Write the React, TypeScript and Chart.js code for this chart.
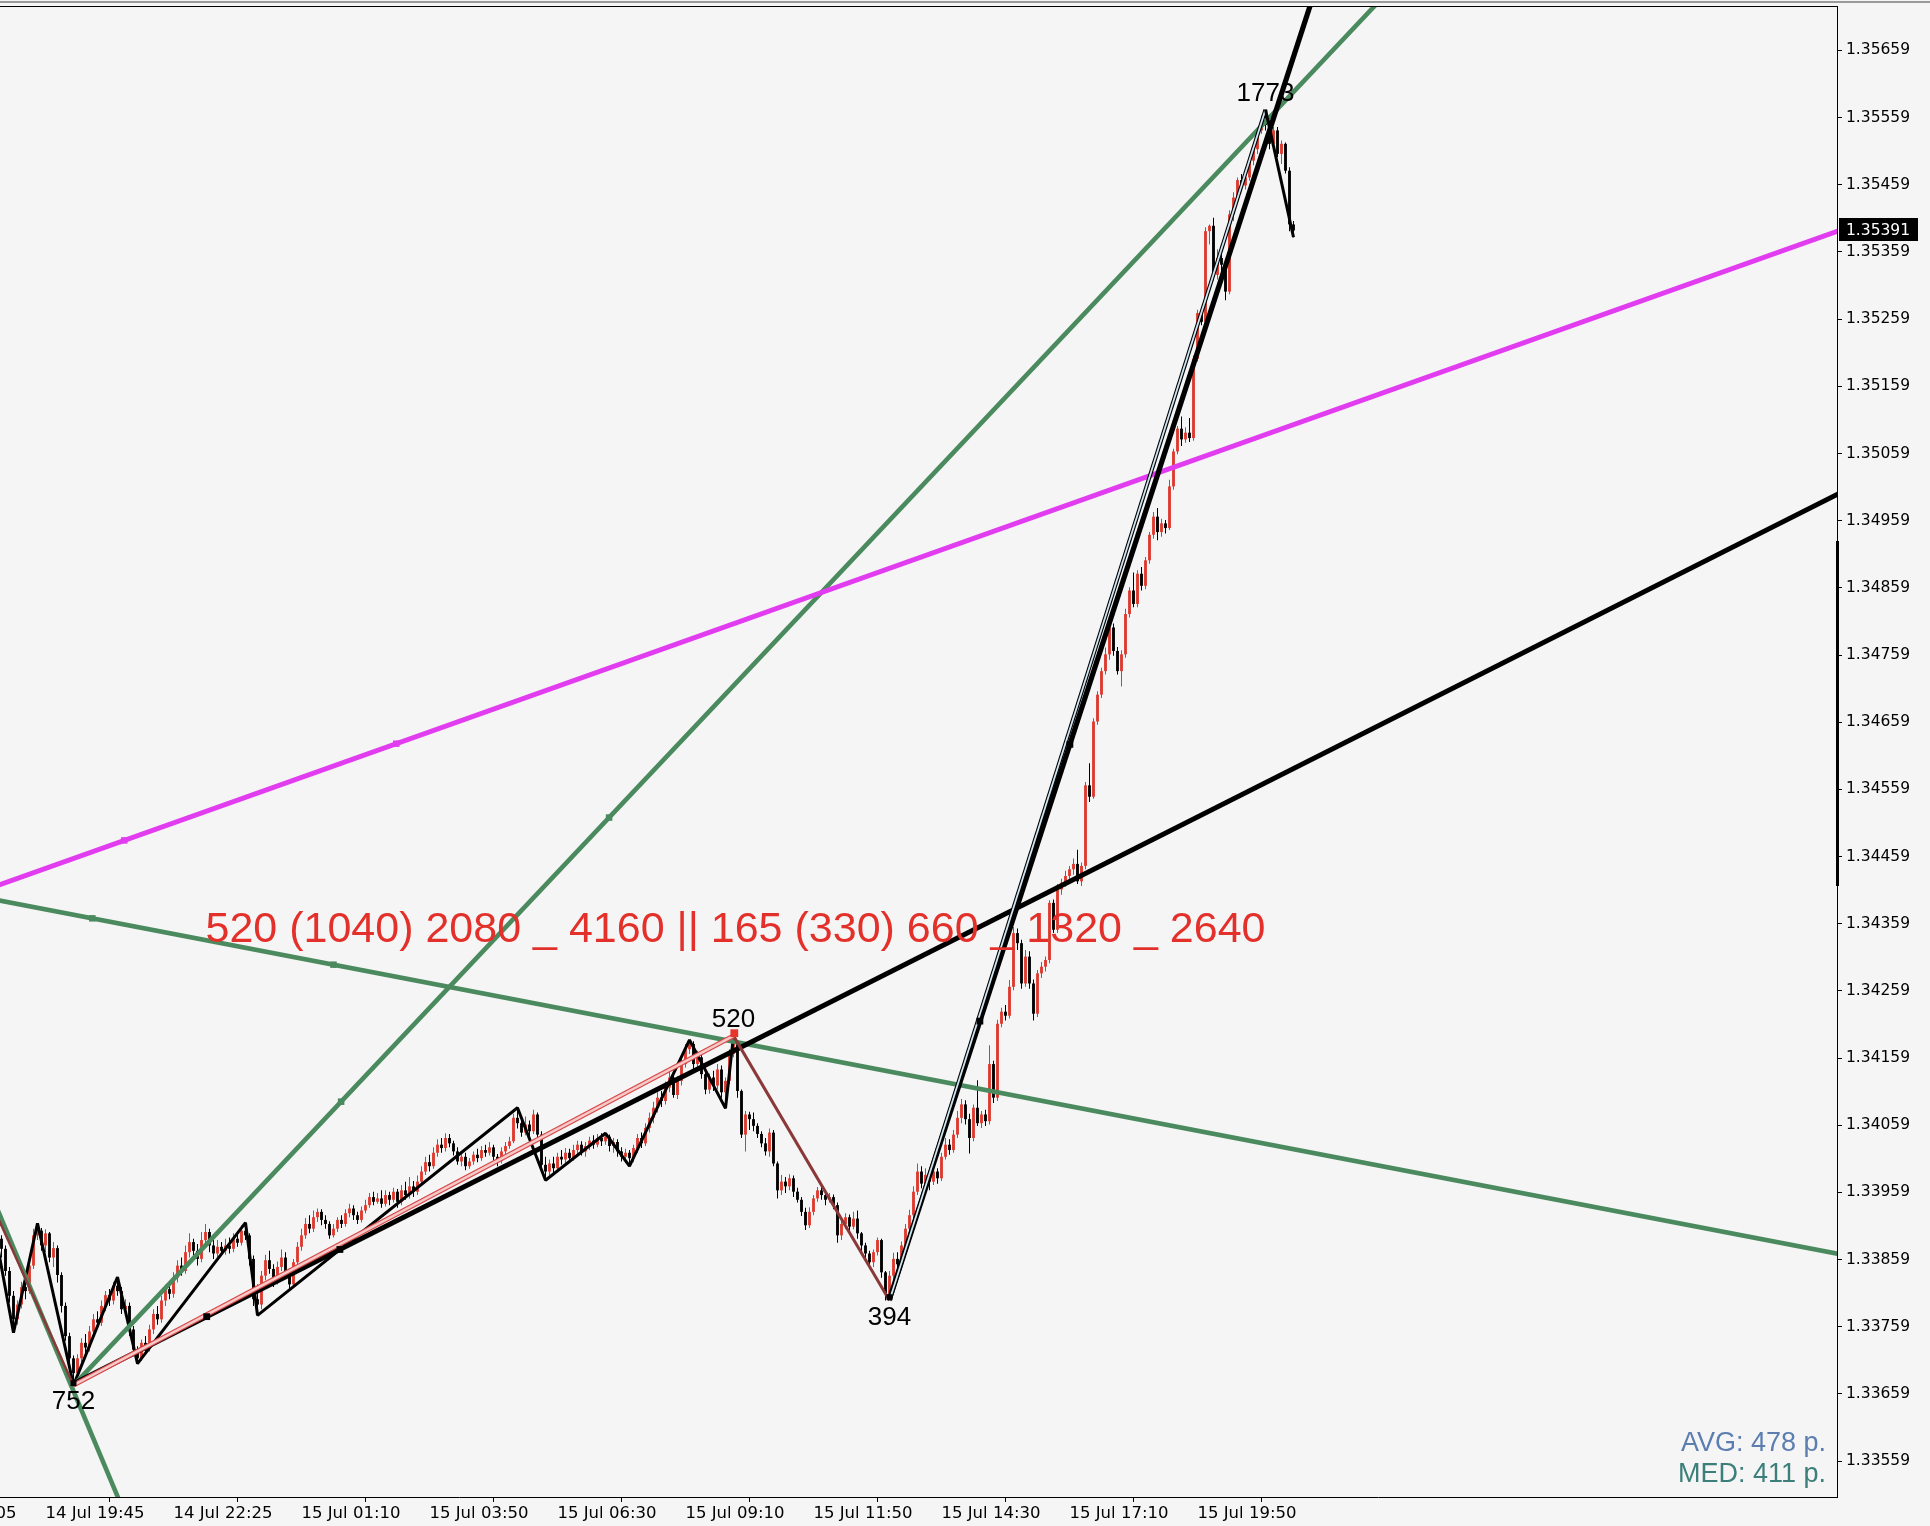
import React, { useEffect, useRef } from 'react';
import { Chart, registerables } from 'chart.js';

Chart.register(...registerables);

const CANVAS_W = 1930;
const CANVAS_H = 1526;

// price = BASE + points * POINT
const BASE = 1.33;
const POINT = 0.00001;

// 5-minute bars, bar 0 = 14 Jul 19:45
const FIRST_BAR = -11;
const FIRST_OPEN_PTS = 890;

const closePts = [
  875, 842, 805, 770, 792, 818, 812, 850, 895, 902,
  880, 898, 862, 876, 836, 790, 745, 712, 690, 712,
  735, 728, 752, 770, 765, 790, 806, 798, 820, 812,
  785, 790, 755, 725, 712, 735, 728, 755, 778, 770,
  798, 815, 808, 832, 850, 842, 870, 885, 872, 860,
  888, 900, 880, 868, 878, 872, 880, 875, 890, 884,
  902, 895, 860, 800, 792, 835, 858, 845, 830, 848,
  862, 840, 822, 855, 878, 895, 912, 905, 922, 930,
  918, 912, 895, 905, 918, 912, 928, 935, 925, 918,
  932, 940, 952, 945, 950, 942, 955, 948, 960, 945,
  962, 955, 968, 960, 975, 990, 1004, 998, 1018, 1030,
  1025, 1040, 1032, 1020, 1005, 1012, 998, 1005, 1015, 1010,
  1022, 1018, 1026, 1012, 1006, 1020, 1028, 1035, 1070, 1062,
  1048, 1060, 1050, 1075, 1045, 1000, 990, 1002, 995, 1012,
  1008, 1018, 1010, 1022, 1030, 1020, 1028, 1036, 1030, 1040,
  1035, 1042, 1028, 1034, 1020, 1012, 1018, 1010, 1025, 1040,
  1032, 1055, 1070, 1085, 1100, 1095, 1115, 1130, 1104, 1125,
  1150, 1172, 1180, 1150, 1160, 1135, 1112, 1130, 1118, 1142,
  1108, 1125, 1165, 1182, 1110, 1045, 1075, 1068, 1058, 1046,
  1032, 1020, 1048, 1002, 962, 975, 968, 980, 960, 948,
  930, 910, 930, 950, 962, 955, 948, 952, 940, 895,
  912, 922, 908, 920, 898, 880, 868, 855, 870, 888,
  840, 808, 835, 860, 852, 880, 905, 925, 960, 990,
  972, 985, 975, 990, 980, 1012, 1030, 1022, 1045, 1070,
  1090, 1068, 1040, 1085, 1062, 1075, 1065, 1150, 1100, 1210,
  1228, 1222, 1265, 1345, 1330, 1270, 1310, 1270, 1225, 1285,
  1295, 1305, 1390, 1350, 1410, 1420, 1430, 1440, 1448, 1422,
  1445, 1565, 1548, 1660, 1700, 1735, 1760, 1800, 1765, 1735,
  1760, 1820, 1855, 1835, 1880, 1862, 1900, 1938, 1965, 1942,
  1955, 1948, 2010, 2062, 2096, 2080, 2090, 2082, 2200, 2268,
  2255, 2390, 2398, 2325, 2350, 2340, 2300, 2415, 2440, 2466,
  2458, 2470, 2495, 2512, 2540, 2555, 2548, 2520, 2540, 2505,
  2520, 2480, 2400, 2391,
];

const highPts = [
  895, 880, 848, 812, 798, 826, 830, 858, 905, 913,
  906, 904, 900, 885, 880, 840, 795, 750, 716, 718,
  742, 748, 760, 778, 782, 798, 812, 815, 826, 833,
  818, 800, 795, 760, 730, 740, 745, 762, 785, 790,
  805, 822, 826, 840, 858, 862, 880, 898, 890, 882,
  900, 912, 905, 890, 888, 885, 890, 892, 898, 900,
  910, 914, 898, 865, 822, 842, 866, 872, 852, 856,
  874, 870, 846, 860, 885, 905, 921, 925, 932, 935,
  934, 925, 916, 912, 922, 925, 934, 942, 940, 930,
  938, 948, 958, 960, 958, 962, 962, 960, 966, 964,
  970, 975, 982, 976, 984, 998, 1012, 1015, 1026, 1038,
  1040, 1047, 1046, 1036, 1026, 1020, 1018, 1010, 1020, 1024,
  1028, 1030, 1034, 1030, 1016, 1026, 1034, 1042, 1076, 1085,
  1068, 1072, 1066, 1082, 1078, 1050, 1012, 1008, 1012, 1018,
  1022, 1025, 1024, 1030, 1036, 1035, 1034, 1042, 1044, 1046,
  1047, 1047, 1045, 1040, 1038, 1026, 1024, 1022, 1030, 1046,
  1048, 1062, 1078, 1094, 1108, 1110, 1124, 1141, 1134, 1132,
  1158, 1180, 1186, 1184, 1170, 1166, 1140, 1136, 1140, 1150,
  1148, 1130, 1172, 1192, 1185, 1112, 1080, 1079, 1078, 1062,
  1050, 1040, 1054, 1052, 1005, 985, 982, 986, 984, 966,
  952, 936, 937, 955, 967, 970, 960, 958, 956, 944,
  918, 928, 926, 930, 932, 900, 884, 872, 874, 892,
  890, 842, 842, 869, 870, 886, 912, 933, 968, 1002,
  998, 995, 992, 1000, 995, 1018, 1040, 1038, 1052, 1080,
  1098, 1096, 1076, 1090, 1126, 1080, 1082, 1178, 1155, 1216,
  1234, 1238, 1275, 1354, 1352, 1335, 1320, 1318, 1276, 1290,
  1302, 1310, 1394, 1395, 1418, 1426, 1438, 1445, 1456, 1469,
  1450, 1570, 1598, 1665, 1705, 1740, 1770, 1807, 1806, 1771,
  1766, 1828, 1860, 1882, 1885, 1890, 1905, 1942, 1972, 1978,
  1962, 1960, 2020, 2066, 2100, 2114, 2098, 2112, 2205, 2273,
  2275, 2396, 2400, 2410, 2363, 2358, 2347, 2421, 2448, 2470,
  2475, 2478, 2500, 2515, 2545, 2562, 2571, 2560, 2545, 2545,
  2525, 2522, 2485, 2405,
];

const lowPts = [
  862, 835, 795, 750, 762, 786, 800, 808, 845, 888,
  872, 870, 855, 848, 825, 780, 738, 700, 672, 684,
  705, 720, 722, 745, 758, 760, 782, 790, 792, 805,
  778, 775, 745, 715, 704, 708, 718, 722, 748, 762,
  765, 790, 800, 802, 825, 835, 838, 862, 865, 850,
  855, 880, 870, 860, 862, 865, 866, 868, 870, 878,
  880, 888, 850, 790, 776, 785, 828, 838, 818, 822,
  842, 830, 815, 818, 850, 872, 890, 898, 900, 915,
  910, 905, 890, 892, 900, 906, 908, 922, 918, 912,
  914, 928, 936, 940, 942, 936, 938, 940, 944, 936,
  940, 948, 950, 952, 955, 970, 985, 990, 994, 1012,
  1018, 1020, 1026, 1014, 1000, 998, 992, 994, 1000, 1004,
  1006, 1012, 1014, 1006, 998, 1002, 1016, 1024, 1032, 1054,
  1042, 1044, 1040, 1046, 1038, 992, 977, 984, 988, 990,
  1000, 1002, 1004, 1006, 1016, 1014, 1012, 1022, 1024, 1026,
  1028, 1030, 1020, 1018, 1012, 1005, 1004, 998, 1004, 1018,
  1025, 1028, 1048, 1062, 1078, 1086, 1090, 1108, 1100, 1098,
  1118, 1145, 1165, 1142, 1140, 1128, 1105, 1106, 1110, 1112,
  1100, 1084, 1120, 1160, 1100, 1040, 1020, 1052, 1050, 1040,
  1026, 1014, 1012, 998, 950, 955, 958, 962, 952, 944,
  924, 903, 906, 925, 945, 948, 940, 944, 934, 884,
  888, 905, 900, 904, 890, 870, 860, 845, 848, 865,
  832, 798, 800, 828, 840, 848, 875, 898, 920, 955,
  965, 968, 962, 970, 972, 976, 1008, 1015, 1018, 1040,
  1062, 1060, 1017, 1035, 1058, 1055, 1058, 1060, 1092, 1095,
  1205, 1215, 1218, 1260, 1320, 1262, 1265, 1262, 1215, 1220,
  1278, 1288, 1300, 1345, 1345, 1402, 1414, 1424, 1432, 1418,
  1415, 1440, 1540, 1545, 1655, 1695, 1730, 1752, 1758, 1730,
  1712, 1755, 1815, 1830, 1830, 1855, 1857, 1895, 1932, 1930,
  1935, 1940, 1945, 2005, 2058, 2070, 2075, 2076, 2078, 2196,
  2250, 2250, 2370, 2317, 2318, 2320, 2287, 2296, 2405, 2435,
  2452, 2452, 2465, 2488, 2505, 2535, 2540, 2512, 2510, 2500,
  2490, 2476, 2390, 2381,
];

const yTickValues = [
  1.33559, 1.33659, 1.33759, 1.33859, 1.33959, 1.34059, 1.34159, 1.34259,
  1.34359, 1.34459, 1.34559, 1.34659, 1.34759, 1.34859, 1.34959, 1.35059,
  1.35159, 1.35259, 1.35359, 1.35459, 1.35559, 1.35659,
];

const xTickBars = [-32, 0, 32, 64, 96, 128, 160, 192, 224, 256, 288];
const xTickLabels = [
  '14 Jul 17:05', '14 Jul 19:45', '14 Jul 22:25', '15 Jul 01:10', '15 Jul 03:50',
  '15 Jul 06:30', '15 Jul 09:10', '15 Jul 11:50', '15 Jul 14:30', '15 Jul 17:10',
  '15 Jul 19:50',
];

const X_MIN = -11.375;
const X_MAX = 447.875;
const Y_MIN = 1.335055;
const Y_MAX = 1.357252;

// zigzag (major) pivots
const majorBars = [-50, 7, 172, 211, 305];
const majorPts = [1424, 672, 1192, 798, 2571];
const majorLabels = ['', '752', '520', '394', '1773'];

// minor zigzag
const minorBars = [-12, -8, -2, 7, 18, 23, 50, 53, 118, 125, 140, 146, 161, 170, 172];
const minorPts = [880, 750, 913, 672, 833, 704, 914, 776, 1085, 977, 1047, 998, 1186, 1084, 1192];
const lastLegBars = [305, 312];
const lastLegPts = [2571, 2381];

// trend lines: anchor points [bar, points]
const magentaAnchors = [[19.7, 1483], [87.7, 1627]];
const greenDescAnchors = [[11.7, 1367], [72, 1298]];
const greenAscAnchors = [[73.9, 1094], [140.9, 1517]];
const greenSteepAnchors = [[-11.4, 925], [17.9, 508]];
const black752Anchors = [[40.3, 774], [73.6, 874]];
const black394Anchors = [[233.6, 1214], [256.1, 1626]];

const pivotSquareBars = [7, 211];
const pivotSquarePts = [675, 803];
const redSquare = [172.2, 1196];

const levelText = '520 (1040) 2080 _ 4160 || 165 (330) 660 _ 1320 _ 2640';
const levelTextAt = [40, 1332];
const avgText = 'AVG: 478 p.';
const medText = 'MED: 411 p.';
const currentPrice = 1.35391;

const BULL = '#dd3a2f';
const BEAR = '#000000';
const GREEN = '#4b8a5e';
const MAGENTA = '#e23cf0';
const MAROON = '#8a3838';
const Y_FONT = { family: '"DejaVu Sans", Tahoma, sans-serif', size: 15.5 };
const X_FONT = { family: '"DejaVu Sans", Tahoma, sans-serif', size: 16.5 };

const toPrice = (p: number) => BASE + p * POINT;

function extendLine(anchors: number[][], fromBar: number, toBar: number) {
  const [a, b] = anchors;
  const slope = (b[1] - a[1]) / (b[0] - a[0]);
  const at = (bar: number) => toPrice(a[1] + slope * (bar - a[0]));
  return [{ x: fromBar, y: at(fromBar) }, { x: toBar, y: at(toBar) }];
}

const toXY = (bars: number[], pts: number[]) => bars.map((b, i) => ({ x: b, y: toPrice(pts[i]) }));

function lineDs(data: any[], color: string, width: number, order: number, join = 'miter') {
  return {
    type: 'line', data, borderColor: color, borderWidth: width, pointRadius: 0,
    fill: false, tension: 0, order, borderCapStyle: 'butt', borderJoinStyle: join,
  };
}

function markerDs(data: any[], color: string, r: number, order: number) {
  return {
    type: 'line', data, showLine: false, pointRadius: r, pointStyle: 'rect',
    pointBackgroundColor: color, pointBorderWidth: 0, borderColor: color, order,
  };
}

function buildDatasets() {
  const wick: any[] = [];
  const body: any[] = [];
  const colors: string[] = [];
  for (let i = 0; i < closePts.length; i++) {
    const bar = FIRST_BAR + i;
    const o = i === 0 ? FIRST_OPEN_PTS : closePts[i - 1];
    const c = closePts[i];
    wick.push({ x: bar, y: [toPrice(lowPts[i]), toPrice(highPts[i])] });
    body.push({ x: bar, y: [toPrice(o), toPrice(c)] });
    colors.push(c > o ? BULL : BEAR);
  }
  const L = -60, R = 470;
  return [
    {
      type: 'bar', data: wick, backgroundColor: colors, grouped: false,
      maxBarThickness: 1, inflateAmount: 0, borderWidth: 0, order: 100,
    },
    {
      type: 'bar', data: body, backgroundColor: colors, grouped: false,
      maxBarThickness: 3, minBarLength: 1, inflateAmount: 0, borderWidth: 0, order: 99,
    },
    lineDs(toXY(minorBars, minorPts), '#000', 3, 50, 'bevel'),
    lineDs(extendLine(greenSteepAnchors, L, R), GREEN, 4.6, 42),
    lineDs(extendLine(greenDescAnchors, L, R), GREEN, 4.8, 41),
    lineDs(extendLine(greenAscAnchors, majorBars[1], R), GREEN, 4.6, 40),
    lineDs(extendLine(magentaAnchors, L, R), MAGENTA, 5, 38),
    lineDs(extendLine(black752Anchors, majorBars[1], R), '#000', 5, 35),
    lineDs(extendLine(black394Anchors, majorBars[3], R), '#000', 5.2, 34),
    lineDs(toXY(majorBars.slice(0, 2), majorPts.slice(0, 2)), MAROON, 2.5, 30),
    lineDs(toXY(majorBars.slice(2, 4), majorPts.slice(2, 4)), MAROON, 3, 29),
    lineDs(toXY(majorBars.slice(1, 3), majorPts.slice(1, 3)), '#d84848', 5, 27),
    lineDs(toXY(majorBars.slice(1, 3), majorPts.slice(1, 3)), '#f6c9c9', 2.5, 26),
    lineDs(toXY(majorBars.slice(3, 5), majorPts.slice(3, 5)), '#000', 4, 25),
    lineDs(toXY(majorBars.slice(3, 5), majorPts.slice(3, 5)), '#cfe7f3', 1.8, 24),
    lineDs(toXY(lastLegBars, lastLegPts), '#000', 3, 23),
    markerDs(toXY(magentaAnchors.map((a) => a[0]), magentaAnchors.map((a) => a[1])), MAGENTA, 4.6, 10),
    markerDs(toXY(greenDescAnchors.map((a) => a[0]), greenDescAnchors.map((a) => a[1])), GREEN, 4.6, 10),
    markerDs(toXY(greenAscAnchors.map((a) => a[0]), greenAscAnchors.map((a) => a[1])), GREEN, 4.6, 10),
    markerDs(toXY(black752Anchors.map((a) => a[0]), black752Anchors.map((a) => a[1])), '#000', 4.8, 10),
    markerDs(toXY(black394Anchors.map((a) => a[0]), black394Anchors.map((a) => a[1])), '#000', 4.8, 10),
    markerDs(toXY(pivotSquareBars, pivotSquarePts), '#000', 4.2, 9),
    markerDs([{ x: redSquare[0], y: toPrice(redSquare[1]) }], '#e8352b', 5.5, 8),
  ];
}

const overlayPlugin = {
  id: 'mtOverlay',
  afterDraw(chart: any) {
    const { ctx, chartArea: ca } = chart;
    const xs = chart.scales.x;
    const ys = chart.scales.y;
    ctx.save();
    // window frame lines
    ctx.fillStyle = '#9a9a9a';
    ctx.fillRect(0, 1, CANVAS_W, 2);
    ctx.fillStyle = '#000';
    ctx.fillRect(ca.left, ca.top, ca.right - ca.left + 1, 1);
    ctx.fillRect(ca.right - 1, 541, 3, 345);

    // zigzag leg labels
    ctx.font = '26px "Liberation Sans", Arial, sans-serif';
    ctx.textAlign = 'center';
    ctx.textBaseline = 'alphabetic';
    ctx.fillStyle = '#000';
    majorBars.forEach((b: number, i: number) => {
      const label = majorLabels[i];
      if (!label) return;
      const px = xs.getPixelForValue(b);
      const py = ys.getPixelForValue(toPrice(majorPts[i]));
      const isLow = majorPts[i] < (majorPts[i - 1] ?? Infinity);
      ctx.fillText(label, px, isLow ? py + 24 : py - 9);
    });

    // level text
    ctx.font = '43px "Liberation Sans", Arial, sans-serif';
    ctx.textAlign = 'left';
    ctx.fillStyle = '#e3302a';
    ctx.fillText(levelText, xs.getPixelForValue(levelTextAt[0]), ys.getPixelForValue(toPrice(levelTextAt[1])));

    // AVG / MED
    ctx.font = '27px "Liberation Sans", Arial, sans-serif';
    ctx.textAlign = 'right';
    ctx.fillStyle = '#5b7db0';
    ctx.fillText(avgText, ca.right - 11, ca.bottom - 46);
    ctx.fillStyle = '#3b7e7a';
    ctx.fillText(medText, ca.right - 11, ca.bottom - 15);

    // current price box
    const py = ys.getPixelForValue(currentPrice);
    ctx.fillStyle = '#000';
    ctx.fillRect(ca.right + 2, Math.round(py) - 12, 79, 23);
    ctx.fillStyle = '#fff';
    ctx.font = '15.5px "DejaVu Sans", Tahoma, sans-serif';
    ctx.textAlign = 'left';
    ctx.textBaseline = 'middle';
    ctx.fillText(currentPrice.toFixed(5), ca.right + 9, py);
    ctx.restore();
  },
};

export default function App() {
  const ref = useRef<HTMLCanvasElement | null>(null);
  useEffect(() => {
    if (!ref.current) return;
    const chart = new Chart(ref.current, {
      type: 'line',
      data: { datasets: buildDatasets() as any },
      options: {
        responsive: false,
        animation: false,
        devicePixelRatio: 1,
        events: [],
        layout: { autoPadding: false, padding: { top: 6, left: 0, right: 0, bottom: 0 } },
        plugins: { legend: { display: false }, tooltip: { enabled: false } },
        scales: {
          x: {
            type: 'linear', position: 'bottom', min: X_MIN, max: X_MAX, offset: false, bounds: 'data',
            afterBuildTicks: (s: any) => { s.ticks = xTickBars.map((v) => ({ value: v })); },
            afterFit: (s: any) => {
              s.height = 29; s.paddingLeft = 0; s.paddingRight = 0; s.paddingTop = 0; s.paddingBottom = 0;
            },
            ticks: {
              autoSkip: false, maxRotation: 0, minRotation: 0, align: 'start', padding: 2,
              color: '#000', font: X_FONT,
              callback: (v: any) => { const i = xTickBars.indexOf(Number(v)); return i >= 0 ? xTickLabels[i] : ''; },
            },
            grid: { drawOnChartArea: false, drawTicks: true, tickLength: 5, tickColor: '#000', color: '#000' },
            border: { display: true, color: '#000', width: 1 },
          },
          y: {
            type: 'linear', position: 'right', min: Y_MIN, max: Y_MAX, bounds: 'data',
            afterBuildTicks: (s: any) => { s.ticks = yTickValues.map((v) => ({ value: v })); },
            afterFit: (s: any) => {
              s.width = 93; s.paddingLeft = 0; s.paddingRight = 0; s.paddingTop = 0; s.paddingBottom = 0;
            },
            ticks: {
              autoSkip: false, padding: 4, color: '#000', font: Y_FONT,
              callback: (v: any) => Number(v).toFixed(5),
            },
            grid: { drawOnChartArea: false, drawTicks: true, tickLength: 5, tickColor: '#000', color: '#000' },
            border: { display: true, color: '#000', width: 1 },
          },
        },
      } as any,
      plugins: [overlayPlugin],
    });
    return () => chart.destroy();
  }, []);
  return (
    <div style={{ position: 'fixed', left: 0, top: 0, width: CANVAS_W, height: CANVAS_H, background: '#f5f5f5' }}>
      <canvas ref={ref} width={CANVAS_W} height={CANVAS_H} style={{ display: 'block' }} />
    </div>
  );
}
